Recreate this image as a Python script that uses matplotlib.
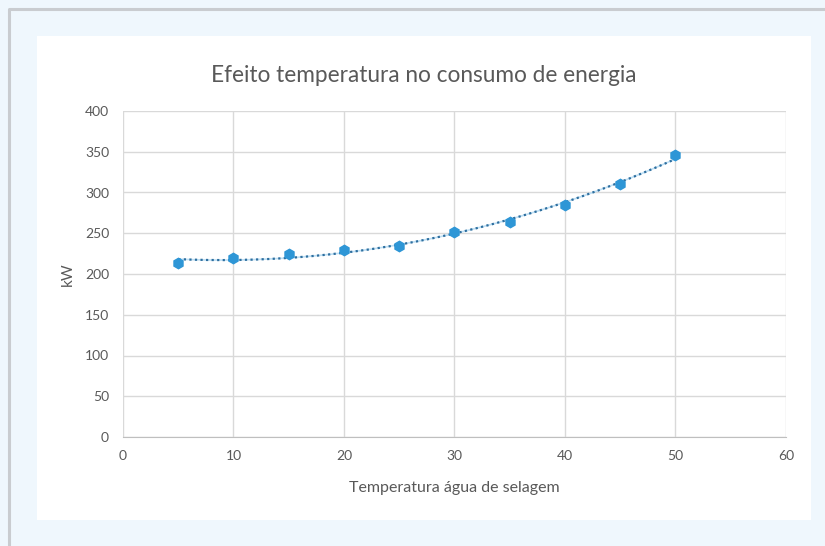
import numpy as np
import matplotlib
matplotlib.use("Agg")
import matplotlib.pyplot as plt
from matplotlib.patches import Rectangle
from matplotlib.lines import Line2D

temperature = [5, 10, 15, 20, 25, 30, 35, 40, 45, 50]
power_kw = [213, 220, 224, 229, 234, 251, 264, 285, 310, 346]
x_ticks = [0, 10, 20, 30, 40, 50, 60]
y_ticks = [0, 50, 100, 150, 200, 250, 300, 350, 400]
title = "Efeito temperatura no consumo de energia"
x_label = "Temperatura água de selagem"
y_label = "kW"

plt.rcParams['font.family'] = ['Lato', 'DejaVu Sans']
W, H = 825, 546
fig = plt.figure(figsize=(W / 100, H / 100), dpi=100)
fig.patch.set_facecolor('#eff7fd')

# outer border (top and left only) and white panel
fig.lines.append(Line2D([9 / W, 9 / W, 1], [0, 1 - 8.5 / H, 1 - 8.5 / H], transform=fig.transFigure,
                        color='#c9ccd0', linewidth=2.2, zorder=0))
fig.patches.append(Rectangle((37 / W, 1 - 520 / H), (811 - 37) / W, (520 - 36) / H,
                             transform=fig.transFigure, facecolor='white', edgecolor='none', zorder=0))

ax = fig.add_axes([123 / W, 1 - 437 / H, (786 - 123) / W, (437 - 111) / H])
ax.set_zorder(5)
ax.set_facecolor('white')
ax.set_xlim(0, 60)
ax.set_ylim(0, 400)
ax.set_xticks(x_ticks)
ax.set_yticks(y_ticks)
ax.grid(True, color='#d9d9d9', linewidth=1)
ax.set_axisbelow(True)
for s in ['top', 'right', 'left']:
    ax.spines[s].set_visible(False)
ax.spines['bottom'].set_color('#bfbfbf')
ax.tick_params(axis='x', length=0, colors='#595959', labelsize=10, pad=9)
ax.tick_params(axis='y', length=0, colors='#595959', labelsize=10, pad=10)

# polynomial (order 2) trendline
coef = np.polyfit(temperature, power_kw, 2)
xs = np.linspace(min(temperature), max(temperature), 200)
ax.plot(xs, np.polyval(coef, xs), linestyle='-', color='#bfe0f5', linewidth=1.2, zorder=2)
ax.plot(xs, np.polyval(coef, xs), linestyle=(0, (1, 1.5)), color='#2f6f9f', linewidth=1.6, zorder=3)
ax.plot(temperature, power_kw, linestyle='none', marker='h', markersize=7.5,
        color='#2e96d6', zorder=4)

fig.text(424 / W, 1 - 75 / H, title, ha='center', va='center', fontsize=16.3, color='#595959', zorder=6)
fig.text(454 / W, 1 - 488 / H, x_label, ha='center', va='center', fontsize=11.5, color='#595959', zorder=6)
fig.text(68 / W, 1 - 274 / H, y_label, ha='center', va='center', rotation=90, fontsize=11, color='#595959', zorder=6)

fig.savefig('out.png', dpi=100, facecolor=fig.get_facecolor())
